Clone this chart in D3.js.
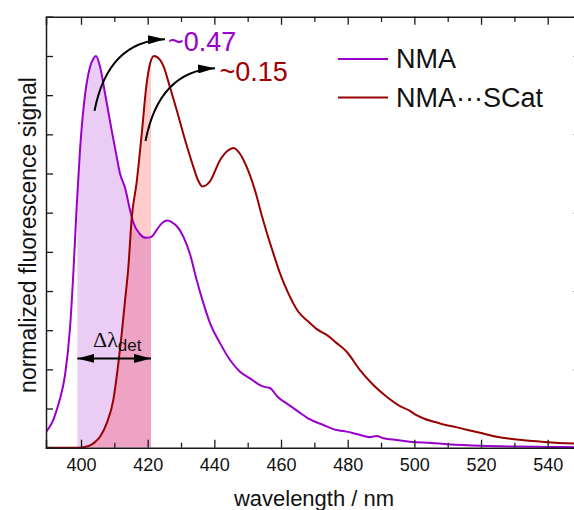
<!DOCTYPE html>
<html>
<head>
<meta charset="utf-8">
<script src="https://cdn.jsdelivr.net/npm/d3@7"></script>
<style>
  html, body { margin: 0; padding: 0; background: #fff; }
  svg { display: block; font-family: "Liberation Sans", Arial, sans-serif; }
</style>
</head>
<body>
<svg id="chart" width="574" height="510"></svg>
<script>
// Emission spectra (wavelength in nm, normalized intensity)
const nmaWavelength = [389.5, 390.5, 391.7, 392.7, 393.7, 395.2, 396.7, 397.7, 398.7, 399.7, 400.5, 401.2, 402.7, 403.7, 404.5, 405.7, 407.2, 409.2, 410.7, 411.7, 413.2, 414.7, 415.7, 417.7, 419.5, 420.7, 421.5, 422.7, 424.5, 425.9, 427.2, 428.7, 430.7, 432.7, 434.7, 436.7, 438.7, 441.7, 444.7, 447.7, 450.7, 453.7, 455.7, 456.5, 459.2, 461.7, 465.2, 468.7, 472.7, 476.7, 479.7, 482.7, 486.7, 488.7, 490.7, 493.7, 498.7, 505, 510, 520, 530, 540, 550];
const nmaSignal = [0.040, 0.052, 0.071, 0.096, 0.125, 0.185, 0.305, 0.445, 0.615, 0.760, 0.845, 0.900, 0.972, 0.993, 1.000, 0.973, 0.905, 0.810, 0.743, 0.700, 0.664, 0.607, 0.575, 0.545, 0.536, 0.537, 0.541, 0.556, 0.575, 0.580, 0.576, 0.566, 0.539, 0.494, 0.428, 0.369, 0.318, 0.267, 0.224, 0.194, 0.177, 0.160, 0.154, 0.153, 0.128, 0.113, 0.092, 0.072, 0.058, 0.045, 0.041, 0.035, 0.027, 0.030, 0.024, 0.021, 0.015, 0.012, 0.009, 0.005, 0.003, 0.002, 0.001];

const scatWavelength = [389.5, 395, 399.7, 401, 402.7, 404, 405.7, 407.7, 409.7, 411.2, 412.2, 413.2, 414.2, 415.2, 416.7, 418.2, 419.7, 420.7, 421.9, 423.7, 424.7, 426.7, 428.7, 431.2, 433.7, 435, 436.4, 437.5, 438.7, 441.7, 444, 445.7, 447.2, 449.7, 452.7, 454, 455.7, 457.7, 459.7, 462.2, 465.2, 468.2, 471.2, 473.7, 476.7, 479.7, 483.7, 487.7, 491.7, 495.7, 498.7, 500.2, 503, 507.7, 513.7, 519.7, 524.7, 531.7, 539.7, 550];
const scatSignal = [0.000, 0.000, 0.000, 0.002, 0.006, 0.013, 0.028, 0.062, 0.122, 0.215, 0.290, 0.375, 0.460, 0.585, 0.678, 0.800, 0.930, 0.980, 1.000, 0.990, 0.975, 0.920, 0.862, 0.786, 0.717, 0.685, 0.667, 0.670, 0.680, 0.734, 0.758, 0.765, 0.756, 0.717, 0.642, 0.600, 0.550, 0.496, 0.445, 0.394, 0.347, 0.322, 0.300, 0.288, 0.267, 0.245, 0.198, 0.160, 0.130, 0.106, 0.094, 0.085, 0.074, 0.062, 0.050, 0.038, 0.028, 0.020, 0.014, 0.010];

const seriesNames = ["NMA", "NMA\u00B7\u00B7\u00B7SCat"];
const seriesColors = ["#9900cc", "#990000"];
const xTickLabels = [400, 420, 440, 460, 480, 500, 520, 540];
const detectionWindow = [398.9, 421];
const yieldLabels = ["~0.47", "~0.15"];

const svg = d3.select("#chart");

const x = d3.scaleLinear().domain([389.5, 550]).range([46, 46 + 160.5 * 3.3336]);
const y = d3.scaleLinear().domain([0, 1.1]).range([447.7, 447.7 - 1.1 * 391.7]);

const nma = nmaWavelength.map((w, i) => [w, nmaSignal[i]]);
const scat = scatWavelength.map((w, i) => [w, scatSignal[i]]);

const curve = d3.curveMonotoneX;
const line = d3.line().x(d => x(d[0])).y(d => y(d[1])).curve(curve);
const area = d3.area().x(d => x(d[0])).y0(y(0)).y1(d => y(d[1])).curve(curve);

const defs = svg.append("defs");

// Detection window clip
defs.append("clipPath").attr("id", "win")
  .append("rect")
  .attr("x", x(detectionWindow[0]))
  .attr("width", x(detectionWindow[1]) - x(detectionWindow[0]))
  .attr("y", 0).attr("height", y(0));

defs.append("clipPath").attr("id", "plotArea")
  .append("rect").attr("x", x(389.5)).attr("y", y(1.1))
  .attr("width", 600).attr("height", y(0) - y(1.1) + 2);

svg.append("path").datum(nma).attr("d", area)
  .attr("clip-path", "url(#win)").attr("fill", "rgb(153,0,204)").attr("fill-opacity", 0.2);
svg.append("path").datum(scat).attr("d", area)
  .attr("clip-path", "url(#win)").attr("fill", "rgb(255,0,0)").attr("fill-opacity", 0.2);

// Spectra
const plotG = svg.append("g").attr("clip-path", "url(#plotArea)");
plotG.append("path").datum(nma).attr("d", line)
  .attr("fill", "none").attr("stroke", seriesColors[0]).attr("stroke-width", 2);
plotG.append("path").datum(scat).attr("d", line)
  .attr("fill", "none").attr("stroke", seriesColors[1]).attr("stroke-width", 2);

// Axes
const axisColor = "#1a1a1a";
function styleAxis(sel) {
  sel.selectAll("path.domain").attr("stroke", axisColor).attr("stroke-width", 1.5);
  sel.selectAll(".tick line").attr("stroke", axisColor).attr("stroke-width", 1.3);
}
const majorX = d3.range(400, 551, 20);
const minorX = d3.range(410, 551, 20);

const axisB = svg.append("g").attr("transform", `translate(0,${y(0)})`)
  .call(d3.axisBottom(x).tickValues(majorX).tickSize(-8).tickPadding(11)
    .tickFormat(d => xTickLabels.includes(d) ? d : ""));
axisB.selectAll("text").attr("font-size", 18).attr("fill", "#111")
  .attr("font-family", "Liberation Sans, Arial, sans-serif");
styleAxis(axisB);
const axisBMinor = svg.append("g").attr("transform", `translate(0,${y(0)})`)
  .call(d3.axisBottom(x).tickValues(minorX).tickSize(-5).tickFormat(""));
styleAxis(axisBMinor);
axisBMinor.select("path.domain").remove();

const axisT = svg.append("g").attr("transform", `translate(0,${y(1.1)})`)
  .call(d3.axisTop(x).tickValues(majorX).tickSize(-8).tickFormat(""));
styleAxis(axisT);
const axisTMinor = svg.append("g").attr("transform", `translate(0,${y(1.1)})`)
  .call(d3.axisTop(x).tickValues(minorX).tickSize(-5).tickFormat(""));
styleAxis(axisTMinor);
axisTMinor.select("path.domain").remove();

const yTicks = d3.range(0, 11).map(i => i / 10);
const axisL = svg.append("g").attr("transform", `translate(${x(389.5)},0)`)
  .call(d3.axisLeft(y).tickValues(yTicks).tickSize(-7).tickFormat(""));
styleAxis(axisL);

const axisR = svg.append("g").attr("transform", `translate(${x(550)},0)`)
  .call(d3.axisRight(y).tickValues([0.2, 0.4, 0.6, 0.8, 1.0]).tickSize(-8).tickFormat(""));
axisR.selectAll(".tick line").attr("stroke", "#aaa").attr("stroke-width", 1);

// Axis titles
svg.append("text").attr("x", 314).attr("y", 506).attr("text-anchor", "middle")
  .attr("font-size", 22).attr("fill", "#111").text("wavelength / nm");
svg.append("text").attr("transform", "translate(36,235) rotate(-90)")
  .attr("text-anchor", "middle").attr("font-size", 23).attr("fill", "#111")
  .text("normalized fluorescence signal");

// Legend
const legend = svg.append("g");
seriesNames.forEach((name, i) => {
  const ly = 59 + i * 38.5;
  legend.append("line").attr("x1", 338).attr("x2", 388).attr("y1", ly).attr("y2", ly)
    .attr("stroke", seriesColors[i]).attr("stroke-width", 2);
  legend.append("text").attr("x", 396).attr("y", ly + 9).attr("font-size", 27)
    .attr("fill", "#111").text(name);
});

// Arrowhead marker
defs.append("marker").attr("id", "head")
  .attr("viewBox", "0 0 17 9").attr("refX", 17).attr("refY", 4.5)
  .attr("markerWidth", 17).attr("markerHeight", 9)
  .attr("markerUnits", "userSpaceOnUse").attr("orient", "auto-start-reverse")
  .append("path").attr("d", "M0,0 L17,4.5 L0,9 Z").attr("fill", "#000");

// Quantum-yield annotations
const arrows = [
  { from: [404.05, 0.860], ctrl: [408.1, 1.038], to: [425.2, 1.043], label: [426.1, 1.013] },
  { from: [419.35, 0.783], ctrl: [423.4, 0.962], to: [440.2, 0.969], label: [441.55, 0.937] }
];
arrows.forEach((a, i) => {
  const p = d3.path();
  p.moveTo(x(a.from[0]), y(a.from[1]));
  p.quadraticCurveTo(x(a.ctrl[0]), y(a.ctrl[1]), x(a.to[0]), y(a.to[1]));
  svg.append("path").attr("d", p.toString()).attr("fill", "none")
    .attr("stroke", "#000").attr("stroke-width", 2).attr("marker-end", "url(#head)");
  svg.append("text").attr("x", x(a.label[0])).attr("y", y(a.label[1]))
    .attr("font-size", 27).attr("fill", i === 0 ? seriesColors[0] : "#a00000")
    .text(yieldLabels[i]);
});

// Detection window width marker
const dy = y(0.228);
svg.append("line").attr("x1", x(detectionWindow[0])).attr("x2", x(detectionWindow[1]))
  .attr("y1", dy).attr("y2", dy).attr("stroke", "#000").attr("stroke-width", 2)
  .attr("marker-start", "url(#head)").attr("marker-end", "url(#head)");
const dl = svg.append("text").attr("x", x(403.6)).attr("y", y(0.257)).attr("fill", "#111");
dl.append("tspan").attr("font-size", 22).attr("font-family", "Liberation Serif, Times New Roman, serif").text("\u0394\u03BB");
dl.append("tspan").attr("font-size", 17).attr("dy", 4).text("det");
</script>
</body>
</html>
